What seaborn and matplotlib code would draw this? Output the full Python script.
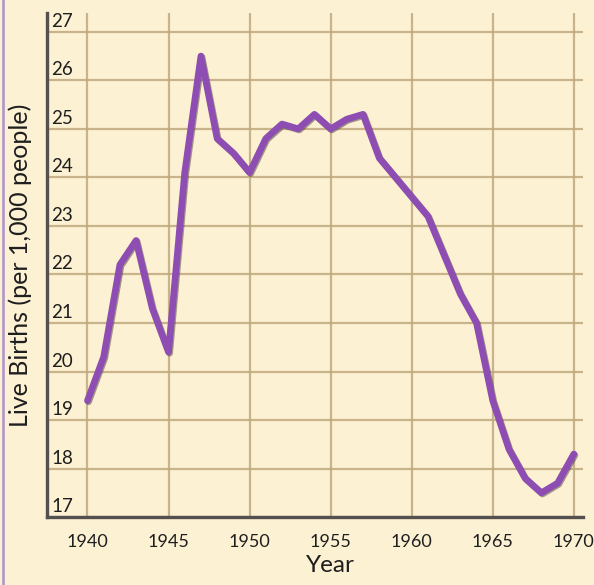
import numpy as np
import pandas as pd
import matplotlib.pyplot as plt
import matplotlib.patheffects as pe
from matplotlib.transforms import ScaledTranslation
from matplotlib.lines import Line2D
import seaborn as sns

years = list(range(1940, 1971))
births = [19.4, 20.3, 22.2, 22.7, 21.3, 20.4, 24.1, 26.5, 24.8, 24.5,
          24.1, 24.8, 25.1, 25.0, 25.3, 25.0, 25.2, 25.3, 24.4, 24.0,
          23.6, 23.2, 22.4, 21.6, 21.0, 19.4, 18.4, 17.8, 17.5, 17.7,
          18.3]
xticks = [1940, 1945, 1950, 1955, 1960, 1965, 1970]
yticks = list(range(17, 28))

df = pd.DataFrame({"Year": years, "Births": births})

sns.set_theme(style="white")
plt.rcParams['font.family'] = ['Lato', 'DejaVu Sans']

bg = "#fcf1d3"
fig = plt.figure(figsize=(5.94, 5.85), dpi=100, facecolor=bg)
ax = fig.add_axes([0.079, 0.116, 0.902, 0.862])
ax.set_facecolor(bg)

sns.lineplot(data=df, x="Year", y="Births", ax=ax, color="#8d4db2",
             linewidth=4.8, solid_joinstyle="round", solid_capstyle="round",
             path_effects=[pe.SimpleLineShadow(offset=(0.8, -0.8), alpha=0.5,
                                               shadow_color="#4a3a3a"),
                           pe.Normal()])

ax.set_xlim(1937.5, 1970.55)
ax.set_ylim(17, 27.39)
ax.set_xticks(xticks)
ax.set_yticks(yticks)
ax.grid(True, color="#bfa97f", linewidth=1.6, alpha=0.85)
ax.set_axisbelow(True)

for s in ["top", "right"]:
    ax.spines[s].set_visible(False)
for s in ["left", "bottom"]:
    ax.spines[s].set_color("#555050")
    ax.spines[s].set_linewidth(2.4)

ax.tick_params(axis="x", length=0, pad=12, labelsize=13, colors="#1e1e1e")
ax.tick_params(axis="y", length=0, pad=-3, labelsize=13.5, colors="#1e1e1e")
for lab in ax.get_yticklabels():
    lab.set_horizontalalignment("left")
    lab.set_transform(lab.get_transform() +
                      ScaledTranslation(0, 0.12, fig.dpi_scale_trans))

ax.set_xlabel("Year", fontsize=17.5, color="#1e1e1e", labelpad=1)
ax.set_ylabel("Live Births (per 1,000 people)", fontsize=18, color="#1e1e1e",
              labelpad=4)
ax.xaxis.set_label_coords(0.53, -0.075)
ax.yaxis.set_label_coords(-0.028, 0.5)

fig.add_artist(Line2D([0.005, 0.005], [0, 1], transform=fig.transFigure,
                      color="#b49ac8", linewidth=2))

fig.savefig("out.png", dpi=100, facecolor=bg)
